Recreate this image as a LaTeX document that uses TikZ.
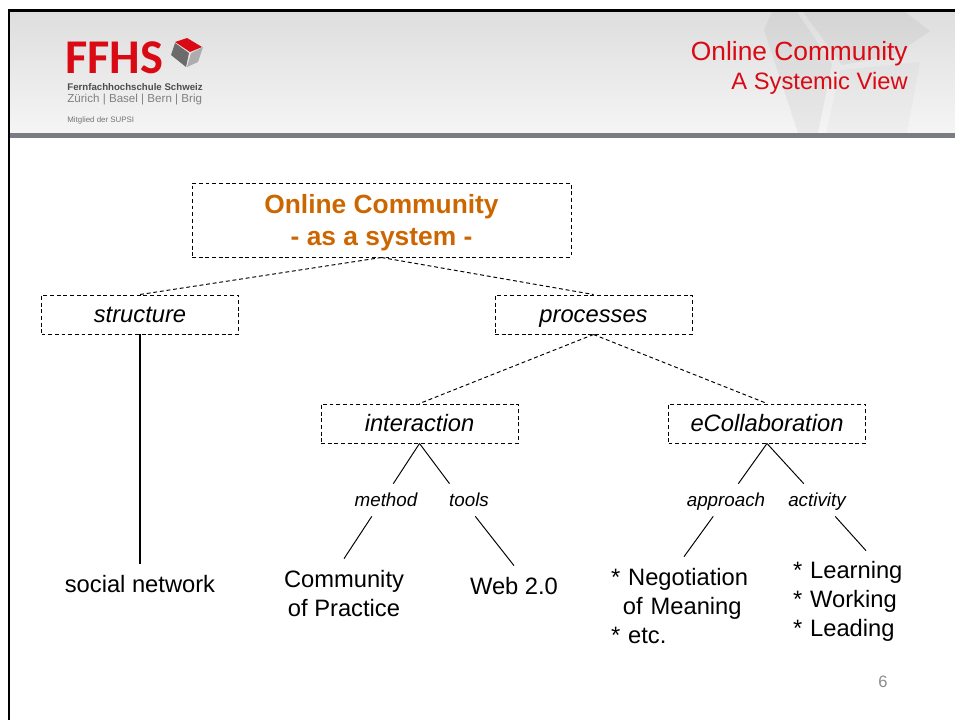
\documentclass[tikz,border=0pt]{standalone}
\usepackage{fontspec}
\setmainfont{Liberation Sans}
\newfontfamily\logofont{Carlito}
\usepackage{tikz}
\definecolor{titlered}{HTML}{D90A14}
\definecolor{rootorange}{HTML}{CC6600}
\definecolor{barcolor}{HTML}{797C82}
\tikzset{
  dashbox/.style={draw,dashed,dash pattern=on 2.2pt off 1.6pt,line width=0.55pt,inner sep=0pt,minimum width=197*0.02cm,minimum height=39*0.02cm,text height=12pt,text depth=2.4pt,font=\fontsize{13.5}{16.4}\selectfont\itshape},
  branch/.style={line width=0.55pt,dash pattern=on 2.2pt off 1.6pt},
  edgelabel/.style={inner sep=0pt,minimum height=32*0.02cm,text height=9.6pt,text depth=2pt,font=\fontsize{10.7}{13}\selectfont\itshape},
  leaf/.style={inner sep=0pt,font=\fontsize{13.5}{16.45}\selectfont},
  twig/.style={line width=0.55pt},
  mark face/.style={opacity=0.045,fill=black}
}
\begin{document}
\begin{tikzpicture}[x=0.02cm,y=-0.02cm]
      \useasboundingbox (0,0) rectangle (955,720);
      \shade[top color=black!13,bottom color=black!4] (9,12) rectangle (955,133);
      \fill[mark face] (803,12) -- (905,12) -- (930,31) -- (895,55) -- (842,65) -- cycle;
      \fill[mark face] (764,30) -- (772,12) -- (797,12) -- (832,64) -- (818,133) -- (798,133) -- cycle;
      \fill[mark face,opacity=0.025] (840,70) -- (920,62) -- (907,133) -- (826,133) -- cycle;
      \fill[barcolor] (9,133) rectangle (955,138);
      \draw[line width=1.7pt] (9,720) -- (9,10.5) -- (955,10.5);
      \node[inner sep=0pt,anchor=base west,font=\logofont\bfseries\fontsize{27.6}{27.6}\selectfont,text=titlered] (logo) at (65,73) {FFHS};
      \fill[titlered] (175,42) -- (187,38) -- (202,47) -- (190,52) -- cycle;
      \fill[black!58] (175,43) -- (189,53) -- (186,67) -- (171,55) -- cycle;
      \fill[black!32] (191,53) -- (203,47) -- (198,62) -- (187,67) -- cycle;
      \node[inner sep=0pt,anchor=west,font=\bfseries\fontsize{5.5}{6}\selectfont,text=black!70] (school) at (67,87) {Fernfachhochschule Schweiz};
      \node[inner sep=0pt,anchor=west,font=\fontsize{6.6}{8}\selectfont,text=black!50] (cities) at (67,100) {Zürich | Basel | Bern | Brig};
      \node[inner sep=0pt,anchor=west,font=\fontsize{4.5}{5}\selectfont,text=black!55] (member) at (67,120) {Mitglied der SUPSI};
      \node[inner sep=0pt,anchor=base east,font=\fontsize{15}{18}\selectfont,text=titlered] (title) at (908,60) {Online Community};
      \node[inner sep=0pt,anchor=base east,font=\fontsize{13.5}{16}\selectfont,text=titlered] (subtitle) at (908,89) {A Systemic View};
      \node[dashbox,minimum width=379*0.02cm,minimum height=74*0.02cm,text height=,text depth=,align=center,text=rootorange,font=\fontsize{15}{18.2}\selectfont\bfseries] (root) at (381.5,220) {\rule{0pt}{13.7pt}Online Community\\- as a system -};
      \node[dashbox] (structure) at (140,314.5) {structure};
      \node[dashbox] (processes) at (593.5,314.5) {processes};
      \node[dashbox] (interaction) at (419.5,423.5) {interaction};
      \node[dashbox] (ecollab) at (767,423.5) {eCollaboration};
      \draw[branch] (root.south) -- (structure.north);
      \draw[branch] (root.south) -- (processes.north);
      \draw[branch] (processes.south) -- (interaction.north);
      \draw[branch] (processes.south) -- (ecollab.north);
      \node[leaf,minimum height=40*0.02cm,text height=11.5pt,text depth=2.4pt] (social) at (140,584) {social network};
      \draw[line width=1.1pt] (structure.south) -- (social.north);
      \node[edgelabel] (method) at (386,500) {method};
      \node[edgelabel] (tools) at (469,500) {tools};
      \node[edgelabel] (approach) at (726,500) {approach};
      \node[edgelabel] (activity) at (817,500) {activity};
      \node[leaf,align=center,minimum height=69*0.02cm] (community) at (344,593.5) {Community\\of Practice};
      \node[leaf,minimum height=40*0.02cm,text height=11.5pt,text depth=2.4pt] (web) at (514,586) {Web 2.0};
      \node[leaf,align=left,text width=146*0.02cm,minimum height=98*0.02cm] (negotiation) at (684,606) {* Negotiation\\\hspace*{6.8pt}of Meaning\\{*} etc.};
      \node[leaf,align=left,text width=146*0.02cm,minimum height=100*0.02cm] (learning) at (866,601) {* Learning\\{*} Working\\{*} Leading};
      \draw[twig] (interaction.south) -- (method.66);
      \draw[twig] (interaction.south) -- (tools.140);
      \draw[twig] (ecollab.south) -- (approach.53);
      \draw[twig] (ecollab.south) -- (activity.129);
      \draw[twig] (method.229) -- (community.north);
      \draw[twig] (tools.291) -- (web.north);
      \draw[twig] (approach.232) -- (negotiation.north);
      \draw[twig] (activity.318) -- (learning.north);
      \node[inner sep=0pt,font=\fontsize{9.4}{11}\selectfont,text=black!45] (pageno) at (883,682) {6};
    \end{tikzpicture}
\end{document}
